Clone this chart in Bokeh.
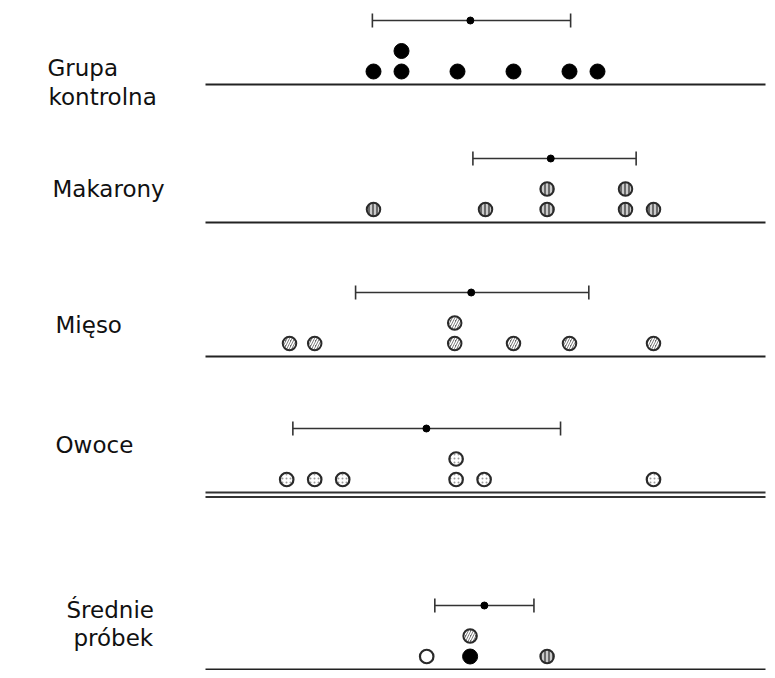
from bokeh.plotting import figure
from bokeh.models import Range1d, Label
from bokeh.embed import file_html
from bokeh.resources import INLINE

# ---- data (x in arbitrary units along each number line) ----
group_names = ["Grupa kontrolna", "Makarony", "Mięso", "Owoce", "Średnie próbek"]
grupa_values = [6, 7, 7, 9, 11, 13, 14]
makarony_values = [6, 10, 12.2, 12.2, 15, 15, 16]
mieso_values = [3, 3.9, 8.9, 8.9, 11, 13, 16]
owoce_values = [2.9, 3.9, 4.9, 8.95, 8.95, 9.95, 16]
srednie_values = [9.45, 12.2, 9.45, 7.9]          # grupa, makarony, mieso, owoce
srednie_sources = ["grupa", "makarony", "mieso", "owoce"]
means = [9.46, 12.33, 9.49, 7.89, 9.96]
err_low = [5.96, 9.55, 5.36, 3.12, 8.19]
err_high = [13.04, 15.38, 13.69, 12.68, 11.73]
line_start, line_end = 0, 20

# ---- layout (pixel rows) ----
baseline_y = [84, 222, 356, 492, 669]
label_lines = [[("Grupa", 47, 67), ("kontrolna", 48, 96)],
               [("Makarony", 52, 188)],
               [("Mięso", 55, 324)],
               [("Owoce", 55, 444)],
               [("Średnie", 66, 609), ("próbek", 73, 637)]]

styles = {
    "grupa": dict(fill_color="black", line_color="black", line_width=1),
    "makarony": dict(fill_color="#6a6a6a", line_color="#2a2a2a", line_width=2,
                     hatch_pattern="vertical_line", hatch_color="white",
                     hatch_scale=4, hatch_weight=1.3),
    "mieso": dict(fill_color="#6a6a6a", line_color="#2a2a2a", line_width=2,
                  hatch_pattern="right_diagonal_line", hatch_color="white",
                  hatch_scale=5, hatch_weight=1.5),
    "owoce": dict(fill_color="white", line_color="#2a2a2a", line_width=2.2,
                  hatch_pattern="dot", hatch_color="#9a9a9a",
                  hatch_scale=4, hatch_weight=1.0),
}
owoce_avg_style = dict(fill_color="white", line_color="#2a2a2a", line_width=2.2)

W, H = 767, 670
p = figure(width=W, height=H, output_backend="svg", toolbar_location=None,
           x_range=Range1d((0 - 205) / 28, (W - 205) / 28),
           y_range=Range1d(H, 0), min_border=0)
p.axis.visible = False
p.grid.visible = False
p.outline_line_color = None
p.background_fill_color = "white"
p.border_fill_color = "white"


def levels(vals):
    out, seen = [], {}
    for v in vals:
        out.append(seen.get(v, 0))
        seen[v] = seen.get(v, 0) + 1
    return out


def dot_rows(vals, base):
    return [base - 13 - 20.5 * l for l in levels(vals)]


group_data = [("grupa", grupa_values), ("makarony", makarony_values),
              ("mieso", mieso_values), ("owoce", owoce_values)]

for i, (key, vals) in enumerate(group_data):
    ys = dot_rows(vals, baseline_y[i])
    size = 15 if key == "grupa" else 13.5
    p.scatter(vals, ys, size=size, marker="circle", **styles[key])

# averages row
ys = dot_rows(srednie_values, baseline_y[4])
for v, y, src in zip(srednie_values, ys, srednie_sources):
    st = owoce_avg_style if src == "owoce" else styles[src]
    size = 15 if src == "grupa" else 13.5
    p.scatter([v], [y], size=size, marker="circle", **st)

# number lines
for i, b in enumerate(baseline_y):
    if i == 3:
        p.segment(x0=[line_start] * 2, x1=[line_end] * 2, y0=[b, b + 4.5], y1=[b, b + 4.5],
                  line_color="#333333", line_width=1.8)
    else:
        p.segment(x0=[line_start], x1=[line_end], y0=[b], y1=[b],
                  line_color="#222222", line_width=2)

# error bars with means
bar_y = [b - 64 for b in baseline_y]
p.segment(x0=err_low, x1=err_high, y0=bar_y, y1=bar_y, line_color="#333333", line_width=1.6)
p.segment(x0=err_low, x1=err_low, y0=[y - 7 for y in bar_y], y1=[y + 7 for y in bar_y],
          line_color="#333333", line_width=1.6)
p.segment(x0=err_high, x1=err_high, y0=[y - 7 for y in bar_y], y1=[y + 7 for y in bar_y],
          line_color="#333333", line_width=1.6)
p.scatter(means, bar_y, size=7, marker="circle", fill_color="black", line_color="black")

# labels
for lines in label_lines:
    for txt, xpx, ypx in lines:
        p.add_layout(Label(x=xpx, y=ypx, x_units="screen", y_units="data", text=txt,
                           text_font="DejaVu Sans", text_font_size="23px",
                           text_color="#111111", text_baseline="alphabetic",
                           text_align="left"))

open("out.html", "w").write(file_html(p, INLINE))
